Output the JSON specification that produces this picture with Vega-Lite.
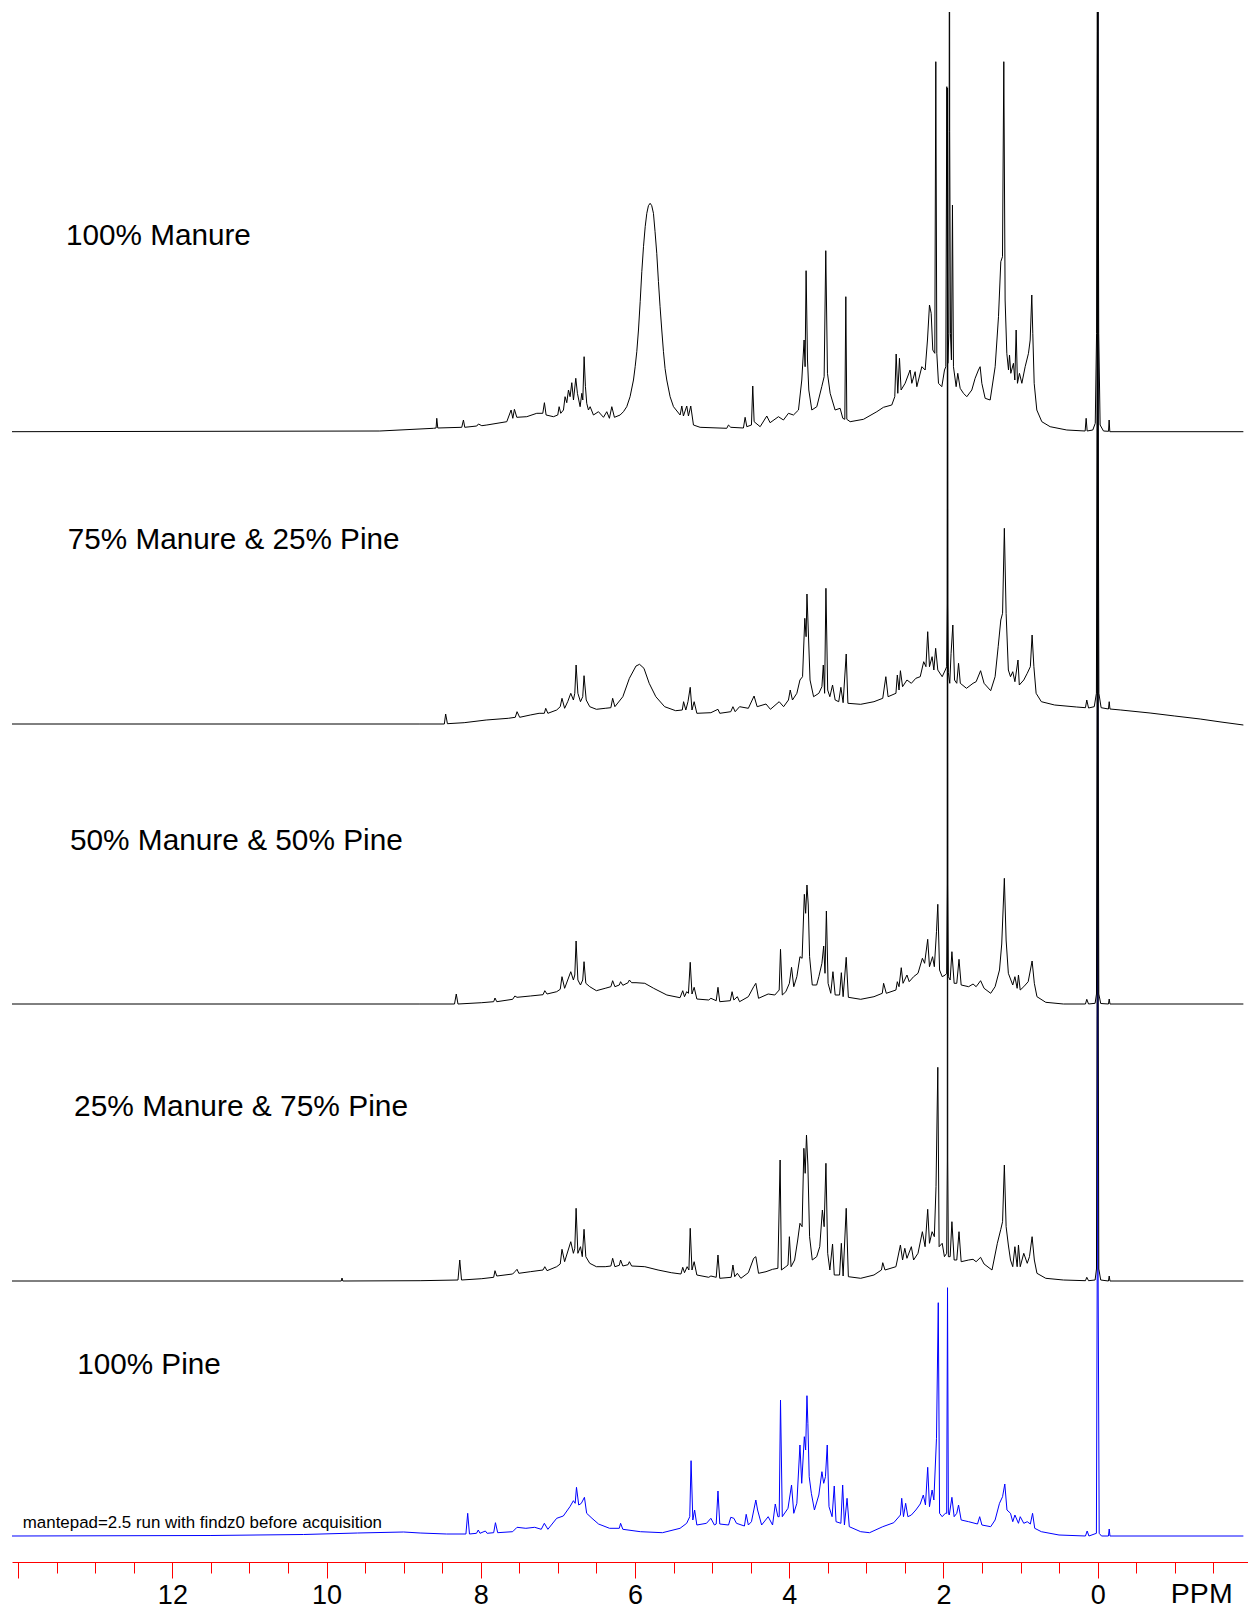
{
  "$schema": "https://vega.github.io/schema/vega-lite/v6.json",
  "autosize": "none",
  "width": 1236,
  "height": 1550,
  "padding": {"left": 12, "top": 12, "right": 0, "bottom": 50},
  "background": "white",
  "config": {"view": {"stroke": null}, "font": "Liberation Sans"},
  "datasets": {
    "manure100": [
      {"ppm": 14.08, "intensity": 0}, {"ppm": 9.31, "intensity": 0.7}, {"ppm": 8.614, "intensity": 3.4}, {"ppm": 8.58, "intensity": 3.7}, {"ppm": 8.571, "intensity": 13.4}, {"ppm": 8.558, "intensity": 3.7},
      {"ppm": 8.247, "intensity": 4.4}, {"ppm": 8.225, "intensity": 11.7}, {"ppm": 8.208, "intensity": 4.4}, {"ppm": 8.052, "intensity": 5.7}, {"ppm": 8.031, "intensity": 7.7}, {"ppm": 7.987, "intensity": 6},
      {"ppm": 7.922, "intensity": 6.7}, {"ppm": 7.663, "intensity": 10}, {"ppm": 7.607, "intensity": 21.7}, {"ppm": 7.585, "intensity": 13.4}, {"ppm": 7.564, "intensity": 22.4}, {"ppm": 7.533, "intensity": 14.4},
      {"ppm": 7.404, "intensity": 15}, {"ppm": 7.274, "intensity": 18.4}, {"ppm": 7.196, "intensity": 18.4}, {"ppm": 7.175, "intensity": 29}, {"ppm": 7.153, "intensity": 16.7}, {"ppm": 7.058, "intensity": 15},
      {"ppm": 7.002, "intensity": 16.7}, {"ppm": 6.984, "intensity": 25}, {"ppm": 6.963, "intensity": 18.4}, {"ppm": 6.928, "intensity": 21.7}, {"ppm": 6.907, "intensity": 35}, {"ppm": 6.885, "intensity": 29},
      {"ppm": 6.863, "intensity": 41.7}, {"ppm": 6.842, "intensity": 35}, {"ppm": 6.82, "intensity": 49}, {"ppm": 6.798, "intensity": 31.7}, {"ppm": 6.768, "intensity": 53.4}, {"ppm": 6.747, "intensity": 38.4},
      {"ppm": 6.712, "intensity": 25}, {"ppm": 6.69, "intensity": 38.4}, {"ppm": 6.677, "intensity": 31.7}, {"ppm": 6.66, "intensity": 75}, {"ppm": 6.643, "intensity": 45}, {"ppm": 6.626, "intensity": 28.4},
      {"ppm": 6.604, "intensity": 21.7}, {"ppm": 6.582, "intensity": 25}, {"ppm": 6.539, "intensity": 16.7}, {"ppm": 6.474, "intensity": 20}, {"ppm": 6.409, "intensity": 14.4}, {"ppm": 6.366, "intensity": 20},
      {"ppm": 6.332, "intensity": 13.4}, {"ppm": 6.301, "intensity": 25}, {"ppm": 6.267, "intensity": 14.4}, {"ppm": 6.193, "intensity": 16.7}, {"ppm": 6.15, "intensity": 20}, {"ppm": 6.107, "intensity": 25},
      {"ppm": 6.064, "intensity": 35}, {"ppm": 6.02, "intensity": 51.7}, {"ppm": 5.998, "intensity": 65}, {"ppm": 5.977, "intensity": 80}, {"ppm": 5.955, "intensity": 101.7}, {"ppm": 5.933, "intensity": 130},
      {"ppm": 5.912, "intensity": 160}, {"ppm": 5.89, "intensity": 185}, {"ppm": 5.868, "intensity": 205}, {"ppm": 5.847, "intensity": 218.4}, {"ppm": 5.826, "intensity": 226}, {"ppm": 5.804, "intensity": 228.4},
      {"ppm": 5.783, "intensity": 226}, {"ppm": 5.761, "intensity": 218.4}, {"ppm": 5.74, "intensity": 200}, {"ppm": 5.718, "intensity": 178.4}, {"ppm": 5.696, "intensity": 150}, {"ppm": 5.675, "intensity": 125},
      {"ppm": 5.653, "intensity": 101.7}, {"ppm": 5.631, "intensity": 80}, {"ppm": 5.61, "intensity": 63}, {"ppm": 5.588, "intensity": 51.7}, {"ppm": 5.545, "intensity": 35}, {"ppm": 5.501, "intensity": 25},
      {"ppm": 5.415, "intensity": 16.7}, {"ppm": 5.393, "intensity": 25.7}, {"ppm": 5.372, "intensity": 15.7}, {"ppm": 5.329, "intensity": 25.7}, {"ppm": 5.307, "intensity": 15.7}, {"ppm": 5.277, "intensity": 25.7},
      {"ppm": 5.242, "intensity": 6.7}, {"ppm": 5.156, "intensity": 4.4}, {"ppm": 4.81, "intensity": 3.4}, {"ppm": 4.788, "intensity": 6.7}, {"ppm": 4.758, "intensity": 4.4}, {"ppm": 4.594, "intensity": 3.7},
      {"ppm": 4.572, "intensity": 14.4}, {"ppm": 4.55, "intensity": 5}, {"ppm": 4.49, "intensity": 6.7}, {"ppm": 4.473, "intensity": 45.7}, {"ppm": 4.455, "intensity": 10}, {"ppm": 4.377, "intensity": 5},
      {"ppm": 4.291, "intensity": 15.7}, {"ppm": 4.248, "intensity": 9}, {"ppm": 4.14, "intensity": 15}, {"ppm": 4.075, "intensity": 11.7}, {"ppm": 4.01, "intensity": 18.4}, {"ppm": 3.945, "intensity": 16.7},
      {"ppm": 3.88, "intensity": 21.7}, {"ppm": 3.837, "intensity": 51.7}, {"ppm": 3.807, "intensity": 91.7}, {"ppm": 3.794, "intensity": 65}, {"ppm": 3.781, "intensity": 161}, {"ppm": 3.763, "intensity": 71.7},
      {"ppm": 3.746, "intensity": 41.7}, {"ppm": 3.707, "intensity": 21.7}, {"ppm": 3.642, "intensity": 25}, {"ppm": 3.578, "intensity": 45}, {"ppm": 3.547, "intensity": 55}, {"ppm": 3.526, "intensity": 181},
      {"ppm": 3.504, "intensity": 58.4}, {"ppm": 3.469, "intensity": 38.4}, {"ppm": 3.405, "intensity": 21.7}, {"ppm": 3.34, "intensity": 23.4}, {"ppm": 3.305, "intensity": 13.4}, {"ppm": 3.279, "intensity": 12.4},
      {"ppm": 3.266, "intensity": 135}, {"ppm": 3.253, "intensity": 12.4}, {"ppm": 3.21, "intensity": 10}, {"ppm": 3.037, "intensity": 12.4}, {"ppm": 2.864, "intensity": 20}, {"ppm": 2.778, "intensity": 24.4},
      {"ppm": 2.67, "intensity": 26.7}, {"ppm": 2.631, "intensity": 35}, {"ppm": 2.613, "intensity": 77.7}, {"ppm": 2.592, "intensity": 38.4}, {"ppm": 2.57, "intensity": 73.4}, {"ppm": 2.549, "intensity": 41.7},
      {"ppm": 2.497, "intensity": 48.4}, {"ppm": 2.432, "intensity": 61.7}, {"ppm": 2.41, "intensity": 48.4}, {"ppm": 2.367, "intensity": 60}, {"ppm": 2.345, "intensity": 45}, {"ppm": 2.28, "intensity": 65},
      {"ppm": 2.237, "intensity": 61.7}, {"ppm": 2.207, "intensity": 91.7}, {"ppm": 2.181, "intensity": 126.7}, {"ppm": 2.159, "intensity": 118.4}, {"ppm": 2.138, "intensity": 81.7}, {"ppm": 2.112, "intensity": 78.4},
      {"ppm": 2.099, "intensity": 370}, {"ppm": 2.086, "intensity": 78.4}, {"ppm": 2.064, "intensity": 48.4}, {"ppm": 2.021, "intensity": 45}, {"ppm": 1.986, "intensity": 61.7}, {"ppm": 1.969, "intensity": 65},
      {"ppm": 1.956, "intensity": 345}, {"ppm": 1.943, "intensity": 68.4}, {"ppm": 1.93, "intensity": 98}, {"ppm": 1.925, "intensity": 300}, {"ppm": 1.922, "intensity": 1000}, {"ppm": 1.919, "intensity": 300},
      {"ppm": 1.909, "intensity": 98}, {"ppm": 1.896, "intensity": 71.7}, {"ppm": 1.883, "intensity": 226.7}, {"ppm": 1.87, "intensity": 65}, {"ppm": 1.835, "intensity": 45}, {"ppm": 1.814, "intensity": 58.4},
      {"ppm": 1.783, "intensity": 43.4}, {"ppm": 1.74, "intensity": 38.4}, {"ppm": 1.697, "intensity": 35}, {"ppm": 1.632, "intensity": 41.7}, {"ppm": 1.589, "intensity": 53.4}, {"ppm": 1.546, "intensity": 61.7},
      {"ppm": 1.524, "intensity": 65}, {"ppm": 1.502, "intensity": 48.4}, {"ppm": 1.459, "intensity": 33.4}, {"ppm": 1.394, "intensity": 31.7}, {"ppm": 1.329, "intensity": 65}, {"ppm": 1.286, "intensity": 115},
      {"ppm": 1.256, "intensity": 170}, {"ppm": 1.234, "intensity": 175}, {"ppm": 1.217, "intensity": 370}, {"ppm": 1.2, "intensity": 131.7}, {"ppm": 1.178, "intensity": 78.4}, {"ppm": 1.156, "intensity": 61.7},
      {"ppm": 1.143, "intensity": 76.7}, {"ppm": 1.126, "intensity": 58.4}, {"ppm": 1.092, "intensity": 68.4}, {"ppm": 1.074, "intensity": 51.7}, {"ppm": 1.057, "intensity": 101.7}, {"ppm": 1.04, "intensity": 48.4},
      {"ppm": 1.014, "intensity": 58.4}, {"ppm": 0.983, "intensity": 48.4}, {"ppm": 0.94, "intensity": 65}, {"ppm": 0.897, "intensity": 78.4}, {"ppm": 0.875, "intensity": 91.7}, {"ppm": 0.854, "intensity": 136.7},
      {"ppm": 0.841, "intensity": 98}, {"ppm": 0.823, "intensity": 48.4}, {"ppm": 0.789, "intensity": 21.7}, {"ppm": 0.724, "intensity": 10}, {"ppm": 0.616, "intensity": 5}, {"ppm": 0.4, "intensity": 1.7},
      {"ppm": 0.162, "intensity": 0.7}, {"ppm": 0.149, "intensity": 13.4}, {"ppm": 0.136, "intensity": 0.7}, {"ppm": 0.063, "intensity": 1.7}, {"ppm": 0.031, "intensity": 8.4}, {"ppm": 0.014, "intensity": 98},
      {"ppm": 0.004, "intensity": 400}, {"ppm": 0, "intensity": 2000}, {"ppm": -0.004, "intensity": 400}, {"ppm": -0.014, "intensity": 98}, {"ppm": -0.032, "intensity": 6.7}, {"ppm": -0.076, "intensity": 0.7},
      {"ppm": -0.141, "intensity": 0.4}, {"ppm": -0.149, "intensity": 11.7}, {"ppm": -0.158, "intensity": 0}, {"ppm": -1.89, "intensity": 0}
    ],
    "manure75pine25": [
      {"ppm": 14.08, "intensity": 0}, {"ppm": 8.8, "intensity": 0}, {"ppm": 8.473, "intensity": 0}, {"ppm": 8.456, "intensity": 10}, {"ppm": 8.433, "intensity": 0.3}, {"ppm": 8.216, "intensity": 1.3},
      {"ppm": 7.93, "intensity": 4}, {"ppm": 7.644, "intensity": 5.7}, {"ppm": 7.553, "intensity": 6.7}, {"ppm": 7.53, "intensity": 12.3}, {"ppm": 7.496, "intensity": 6.7}, {"ppm": 7.358, "intensity": 9},
      {"ppm": 7.244, "intensity": 10.7}, {"ppm": 7.176, "intensity": 10.7}, {"ppm": 7.158, "intensity": 15.7}, {"ppm": 7.13, "intensity": 10.7}, {"ppm": 7.016, "intensity": 14}, {"ppm": 6.97, "intensity": 17.3},
      {"ppm": 6.947, "intensity": 25.7}, {"ppm": 6.913, "intensity": 15.7}, {"ppm": 6.873, "intensity": 22.3}, {"ppm": 6.833, "intensity": 30.7}, {"ppm": 6.799, "intensity": 24}, {"ppm": 6.781, "intensity": 30.7},
      {"ppm": 6.764, "intensity": 59}, {"ppm": 6.741, "intensity": 30.7}, {"ppm": 6.707, "intensity": 22.3}, {"ppm": 6.678, "intensity": 27.3}, {"ppm": 6.661, "intensity": 48.3}, {"ppm": 6.633, "intensity": 24},
      {"ppm": 6.587, "intensity": 17.3}, {"ppm": 6.501, "intensity": 14.7}, {"ppm": 6.387, "intensity": 15.7}, {"ppm": 6.313, "intensity": 16.3}, {"ppm": 6.29, "intensity": 25.7}, {"ppm": 6.261, "intensity": 17.3},
      {"ppm": 6.158, "intensity": 27.3}, {"ppm": 6.073, "intensity": 45.7}, {"ppm": 5.987, "intensity": 58}, {"ppm": 5.941, "intensity": 59.7}, {"ppm": 5.884, "intensity": 55.7}, {"ppm": 5.816, "intensity": 40.7},
      {"ppm": 5.73, "intensity": 27.3}, {"ppm": 5.616, "intensity": 17.3}, {"ppm": 5.473, "intensity": 13.3}, {"ppm": 5.387, "intensity": 14}, {"ppm": 5.37, "intensity": 22.3}, {"ppm": 5.341, "intensity": 14},
      {"ppm": 5.313, "intensity": 22.3}, {"ppm": 5.284, "intensity": 36.7}, {"ppm": 5.261, "intensity": 14}, {"ppm": 5.233, "intensity": 22.3}, {"ppm": 5.198, "intensity": 10.7}, {"ppm": 5.016, "intensity": 11.3},
      {"ppm": 4.924, "intensity": 14.7}, {"ppm": 4.901, "intensity": 10.7}, {"ppm": 4.758, "intensity": 12.3}, {"ppm": 4.73, "intensity": 17.3}, {"ppm": 4.701, "intensity": 12.3}, {"ppm": 4.644, "intensity": 17.3},
      {"ppm": 4.53, "intensity": 15.7}, {"ppm": 4.456, "intensity": 28}, {"ppm": 4.416, "intensity": 17.3}, {"ppm": 4.301, "intensity": 20}, {"ppm": 4.244, "intensity": 14.7}, {"ppm": 4.13, "intensity": 22.3},
      {"ppm": 4.073, "intensity": 17.3}, {"ppm": 4.01, "intensity": 24}, {"ppm": 3.987, "intensity": 34}, {"ppm": 3.958, "intensity": 24}, {"ppm": 3.901, "intensity": 30.7}, {"ppm": 3.861, "intensity": 44},
      {"ppm": 3.827, "intensity": 47.3}, {"ppm": 3.798, "intensity": 105.7}, {"ppm": 3.781, "intensity": 87.3}, {"ppm": 3.77, "intensity": 130}, {"ppm": 3.753, "intensity": 94}, {"ppm": 3.73, "intensity": 44},
      {"ppm": 3.684, "intensity": 27.3}, {"ppm": 3.616, "intensity": 30.7}, {"ppm": 3.576, "intensity": 37.3}, {"ppm": 3.558, "intensity": 59}, {"ppm": 3.541, "intensity": 30.7}, {"ppm": 3.524, "intensity": 135.7},
      {"ppm": 3.501, "intensity": 34}, {"ppm": 3.473, "intensity": 27.3}, {"ppm": 3.438, "intensity": 39}, {"ppm": 3.404, "intensity": 24}, {"ppm": 3.358, "intensity": 22.3}, {"ppm": 3.33, "intensity": 36.7},
      {"ppm": 3.301, "intensity": 21.3}, {"ppm": 3.261, "intensity": 70}, {"ppm": 3.239, "intensity": 20.7}, {"ppm": 3.073, "intensity": 19.7}, {"ppm": 2.901, "intensity": 22.3}, {"ppm": 2.787, "intensity": 25.7},
      {"ppm": 2.747, "intensity": 47.3}, {"ppm": 2.718, "intensity": 27.3}, {"ppm": 2.616, "intensity": 30.7}, {"ppm": 2.598, "intensity": 49}, {"ppm": 2.576, "intensity": 34}, {"ppm": 2.558, "intensity": 53.3},
      {"ppm": 2.53, "intensity": 37.3}, {"ppm": 2.473, "intensity": 44}, {"ppm": 2.416, "intensity": 40.7}, {"ppm": 2.358, "intensity": 45.7}, {"ppm": 2.301, "intensity": 47.3}, {"ppm": 2.256, "intensity": 62.3},
      {"ppm": 2.227, "intensity": 57.3}, {"ppm": 2.204, "intensity": 92.3}, {"ppm": 2.181, "intensity": 57.3}, {"ppm": 2.147, "intensity": 67.3}, {"ppm": 2.124, "intensity": 54}, {"ppm": 2.101, "intensity": 75.7},
      {"ppm": 2.073, "intensity": 54}, {"ppm": 2.016, "intensity": 47.3}, {"ppm": 1.976, "intensity": 54}, {"ppm": 1.958, "intensity": 57.3}, {"ppm": 1.95, "intensity": 120}, {"ppm": 1.947, "intensity": 636},
      {"ppm": 1.944, "intensity": 120}, {"ppm": 1.936, "intensity": 51.3}, {"ppm": 1.918, "intensity": 40.7}, {"ppm": 1.901, "intensity": 70.7}, {"ppm": 1.878, "intensity": 99}, {"ppm": 1.856, "intensity": 44},
      {"ppm": 1.827, "intensity": 40.7}, {"ppm": 1.804, "intensity": 60.7}, {"ppm": 1.781, "intensity": 40.7}, {"ppm": 1.701, "intensity": 35.7}, {"ppm": 1.616, "intensity": 40.7}, {"ppm": 1.576, "intensity": 42.3},
      {"ppm": 1.518, "intensity": 53.3}, {"ppm": 1.473, "intensity": 40.7}, {"ppm": 1.387, "intensity": 33.3}, {"ppm": 1.33, "intensity": 47.3}, {"ppm": 1.29, "intensity": 77.3}, {"ppm": 1.256, "intensity": 104},
      {"ppm": 1.233, "intensity": 110.7}, {"ppm": 1.21, "intensity": 195.7}, {"ppm": 1.187, "intensity": 110.7}, {"ppm": 1.158, "intensity": 54}, {"ppm": 1.13, "intensity": 47.3}, {"ppm": 1.101, "intensity": 52.3},
      {"ppm": 1.073, "intensity": 42.3}, {"ppm": 1.033, "intensity": 64}, {"ppm": 1.016, "intensity": 39}, {"ppm": 0.958, "intensity": 44}, {"ppm": 0.913, "intensity": 50.7}, {"ppm": 0.873, "intensity": 57.3},
      {"ppm": 0.85, "intensity": 89}, {"ppm": 0.827, "intensity": 57.3}, {"ppm": 0.798, "intensity": 30.7}, {"ppm": 0.73, "intensity": 22.3}, {"ppm": 0.558, "intensity": 19}, {"ppm": 0.273, "intensity": 17},
      {"ppm": 0.158, "intensity": 16.3}, {"ppm": 0.141, "intensity": 24}, {"ppm": 0.118, "intensity": 16}, {"ppm": 0.044, "intensity": 17.3}, {"ppm": 0.016, "intensity": 30.7}, {"ppm": 0.004, "intensity": 400},
      {"ppm": 0, "intensity": 2000}, {"ppm": -0.004, "intensity": 400}, {"ppm": -0.016, "intensity": 30.7}, {"ppm": -0.045, "intensity": 16.3}, {"ppm": -0.14, "intensity": 15}, {"ppm": -0.15, "intensity": 22.3},
      {"ppm": -0.16, "intensity": 15}, {"ppm": -0.3, "intensity": 14}, {"ppm": -0.68, "intensity": 11}, {"ppm": -1.0, "intensity": 8}, {"ppm": -1.33, "intensity": 5}, {"ppm": -1.6, "intensity": 2},
      {"ppm": -1.89, "intensity": -1}
    ],
    "manure50pine50": [
      {"ppm": 14.08, "intensity": 0}, {"ppm": 8.8, "intensity": 0}, {"ppm": 8.341, "intensity": 0}, {"ppm": 8.318, "intensity": 10}, {"ppm": 8.296, "intensity": 0}, {"ppm": 7.987, "intensity": 1.3},
      {"ppm": 7.833, "intensity": 2.3}, {"ppm": 7.816, "intensity": 6}, {"ppm": 7.793, "intensity": 2.3}, {"ppm": 7.587, "intensity": 4.7}, {"ppm": 7.558, "intensity": 8}, {"ppm": 7.53, "intensity": 6.7},
      {"ppm": 7.358, "intensity": 8}, {"ppm": 7.193, "intensity": 9.3}, {"ppm": 7.17, "intensity": 13.3}, {"ppm": 7.141, "intensity": 10}, {"ppm": 7.016, "intensity": 12.3}, {"ppm": 6.97, "intensity": 14.7},
      {"ppm": 6.947, "intensity": 27.3}, {"ppm": 6.913, "intensity": 15.7}, {"ppm": 6.833, "intensity": 32.3}, {"ppm": 6.799, "intensity": 24}, {"ppm": 6.781, "intensity": 29}, {"ppm": 6.764, "intensity": 63},
      {"ppm": 6.741, "intensity": 24}, {"ppm": 6.707, "intensity": 19}, {"ppm": 6.678, "intensity": 24}, {"ppm": 6.661, "intensity": 42.3}, {"ppm": 6.638, "intensity": 20.7}, {"ppm": 6.587, "intensity": 17.3},
      {"ppm": 6.501, "intensity": 13.3}, {"ppm": 6.387, "intensity": 15.7}, {"ppm": 6.313, "intensity": 17.3}, {"ppm": 6.29, "intensity": 23.3}, {"ppm": 6.261, "intensity": 17.3}, {"ppm": 6.204, "intensity": 19},
      {"ppm": 6.187, "intensity": 22.3}, {"ppm": 6.158, "intensity": 18.7}, {"ppm": 6.09, "intensity": 21.3}, {"ppm": 6.073, "intensity": 24}, {"ppm": 6.044, "intensity": 21.3}, {"ppm": 5.987, "intensity": 21.3},
      {"ppm": 5.873, "intensity": 20.7}, {"ppm": 5.758, "intensity": 15.7}, {"ppm": 5.587, "intensity": 9}, {"ppm": 5.416, "intensity": 6.3}, {"ppm": 5.381, "intensity": 13.3}, {"ppm": 5.358, "intensity": 7.3},
      {"ppm": 5.33, "intensity": 12.3}, {"ppm": 5.307, "intensity": 10.7}, {"ppm": 5.284, "intensity": 41.7}, {"ppm": 5.261, "intensity": 10}, {"ppm": 5.233, "intensity": 16.7}, {"ppm": 5.198, "intensity": 5},
      {"ppm": 5.044, "intensity": 4}, {"ppm": 5.016, "intensity": 5.7}, {"ppm": 4.947, "intensity": 3.3}, {"ppm": 4.924, "intensity": 16.7}, {"ppm": 4.901, "intensity": 2.3}, {"ppm": 4.764, "intensity": 3.3},
      {"ppm": 4.741, "intensity": 12.3}, {"ppm": 4.718, "intensity": 4}, {"ppm": 4.673, "intensity": 7.3}, {"ppm": 4.644, "intensity": 2.3}, {"ppm": 4.53, "intensity": 7.3}, {"ppm": 4.461, "intensity": 17.3},
      {"ppm": 4.433, "intensity": 20.7}, {"ppm": 4.398, "intensity": 5.7}, {"ppm": 4.273, "intensity": 10}, {"ppm": 4.187, "intensity": 9}, {"ppm": 4.13, "intensity": 14}, {"ppm": 4.113, "intensity": 54.7},
      {"ppm": 4.09, "intensity": 9}, {"ppm": 4.044, "intensity": 12.3}, {"ppm": 3.998, "intensity": 20.7}, {"ppm": 3.97, "intensity": 36.7}, {"ppm": 3.941, "intensity": 17.3}, {"ppm": 3.901, "intensity": 27.3},
      {"ppm": 3.861, "intensity": 47.3}, {"ppm": 3.833, "intensity": 45.7}, {"ppm": 3.804, "intensity": 109.7}, {"ppm": 3.787, "intensity": 90.7}, {"ppm": 3.77, "intensity": 119}, {"ppm": 3.753, "intensity": 99},
      {"ppm": 3.736, "intensity": 47.3}, {"ppm": 3.701, "intensity": 19}, {"ppm": 3.644, "intensity": 19}, {"ppm": 3.616, "intensity": 27.3}, {"ppm": 3.576, "intensity": 40.7}, {"ppm": 3.553, "intensity": 58},
      {"ppm": 3.536, "intensity": 30.7}, {"ppm": 3.518, "intensity": 93}, {"ppm": 3.496, "intensity": 20.7}, {"ppm": 3.461, "intensity": 10.7}, {"ppm": 3.433, "intensity": 32.3}, {"ppm": 3.404, "intensity": 9},
      {"ppm": 3.347, "intensity": 9}, {"ppm": 3.324, "intensity": 31.3}, {"ppm": 3.301, "intensity": 7.3}, {"ppm": 3.261, "intensity": 46.7}, {"ppm": 3.233, "intensity": 6.7}, {"ppm": 3.073, "intensity": 4.7},
      {"ppm": 2.901, "intensity": 7.3}, {"ppm": 2.793, "intensity": 10.7}, {"ppm": 2.776, "intensity": 20.7}, {"ppm": 2.741, "intensity": 10.7}, {"ppm": 2.616, "intensity": 14}, {"ppm": 2.598, "intensity": 22.3},
      {"ppm": 2.576, "intensity": 17.3}, {"ppm": 2.547, "intensity": 36.3}, {"ppm": 2.524, "intensity": 20.7}, {"ppm": 2.473, "intensity": 29}, {"ppm": 2.444, "intensity": 22.3}, {"ppm": 2.387, "intensity": 27.3},
      {"ppm": 2.33, "intensity": 30.7}, {"ppm": 2.273, "intensity": 45.7}, {"ppm": 2.244, "intensity": 40.7}, {"ppm": 2.204, "intensity": 64.7}, {"ppm": 2.181, "intensity": 37.3}, {"ppm": 2.141, "intensity": 47.3},
      {"ppm": 2.118, "intensity": 37.3}, {"ppm": 2.09, "intensity": 72.3}, {"ppm": 2.073, "intensity": 99.7}, {"ppm": 2.05, "intensity": 34}, {"ppm": 2.016, "intensity": 27.3}, {"ppm": 1.976, "intensity": 29},
      {"ppm": 1.958, "intensity": 30.7}, {"ppm": 1.95, "intensity": 120}, {"ppm": 1.947, "intensity": 916}, {"ppm": 1.944, "intensity": 120}, {"ppm": 1.936, "intensity": 27.3}, {"ppm": 1.913, "intensity": 24},
      {"ppm": 1.89, "intensity": 52.3}, {"ppm": 1.861, "intensity": 20.7}, {"ppm": 1.827, "intensity": 20.7}, {"ppm": 1.798, "intensity": 44.7}, {"ppm": 1.77, "intensity": 19}, {"ppm": 1.673, "intensity": 17.3},
      {"ppm": 1.616, "intensity": 20}, {"ppm": 1.576, "intensity": 17.3}, {"ppm": 1.518, "intensity": 23.3}, {"ppm": 1.473, "intensity": 15.7}, {"ppm": 1.387, "intensity": 10.7}, {"ppm": 1.33, "intensity": 17.3},
      {"ppm": 1.273, "intensity": 34}, {"ppm": 1.244, "intensity": 60}, {"ppm": 1.21, "intensity": 125.7}, {"ppm": 1.187, "intensity": 64}, {"ppm": 1.158, "intensity": 30.7}, {"ppm": 1.101, "intensity": 19},
      {"ppm": 1.073, "intensity": 27.3}, {"ppm": 1.044, "intensity": 15.7}, {"ppm": 1.027, "intensity": 29}, {"ppm": 1.004, "intensity": 14}, {"ppm": 0.958, "intensity": 17.3}, {"ppm": 0.901, "intensity": 22.3},
      {"ppm": 0.85, "intensity": 43}, {"ppm": 0.821, "intensity": 20.7}, {"ppm": 0.787, "intensity": 7.3}, {"ppm": 0.673, "intensity": 1.7}, {"ppm": 0.444, "intensity": 0}, {"ppm": 0.158, "intensity": 0},
      {"ppm": 0.141, "intensity": 4.7}, {"ppm": 0.118, "intensity": 0}, {"ppm": 0.033, "intensity": 0.7}, {"ppm": 0.015, "intensity": 10}, {"ppm": 0.004, "intensity": 400}, {"ppm": 0, "intensity": 2000},
      {"ppm": -0.004, "intensity": 400}, {"ppm": -0.015, "intensity": 10}, {"ppm": -0.04, "intensity": 0.5}, {"ppm": -0.14, "intensity": 0}, {"ppm": -0.15, "intensity": 5}, {"ppm": -0.16, "intensity": 0},
      {"ppm": -1.89, "intensity": 0}
    ],
    "manure25pine75": [
      {"ppm": 14.08, "intensity": 0}, {"ppm": 9.81, "intensity": 0}, {"ppm": 9.8, "intensity": 3}, {"ppm": 9.79, "intensity": 0}, {"ppm": 8.787, "intensity": 0.3}, {"ppm": 8.296, "intensity": 1},
      {"ppm": 8.273, "intensity": 21}, {"ppm": 8.25, "intensity": 1}, {"ppm": 7.987, "intensity": 2.3}, {"ppm": 7.833, "intensity": 3.7}, {"ppm": 7.816, "intensity": 10.3}, {"ppm": 7.793, "intensity": 5},
      {"ppm": 7.587, "intensity": 7}, {"ppm": 7.558, "intensity": 9.3}, {"ppm": 7.53, "intensity": 11.7}, {"ppm": 7.507, "intensity": 7.7}, {"ppm": 7.358, "intensity": 9.3}, {"ppm": 7.193, "intensity": 11},
      {"ppm": 7.17, "intensity": 14.3}, {"ppm": 7.141, "intensity": 10.3}, {"ppm": 7.016, "intensity": 14.3}, {"ppm": 6.97, "intensity": 17}, {"ppm": 6.947, "intensity": 31.7}, {"ppm": 6.913, "intensity": 19.3},
      {"ppm": 6.833, "intensity": 39.3}, {"ppm": 6.799, "intensity": 27.7}, {"ppm": 6.781, "intensity": 32.7}, {"ppm": 6.764, "intensity": 72.7}, {"ppm": 6.741, "intensity": 27.7}, {"ppm": 6.707, "intensity": 34.3},
      {"ppm": 6.684, "intensity": 24.3}, {"ppm": 6.661, "intensity": 51.7}, {"ppm": 6.638, "intensity": 24.3}, {"ppm": 6.587, "intensity": 17.7}, {"ppm": 6.501, "intensity": 14.3}, {"ppm": 6.387, "intensity": 14.3},
      {"ppm": 6.313, "intensity": 15}, {"ppm": 6.29, "intensity": 22.7}, {"ppm": 6.261, "intensity": 14.3}, {"ppm": 6.204, "intensity": 15.7}, {"ppm": 6.187, "intensity": 21}, {"ppm": 6.158, "intensity": 15},
      {"ppm": 6.09, "intensity": 16.3}, {"ppm": 6.073, "intensity": 19.3}, {"ppm": 6.044, "intensity": 15}, {"ppm": 5.873, "intensity": 14.3}, {"ppm": 5.701, "intensity": 11}, {"ppm": 5.53, "intensity": 8.3},
      {"ppm": 5.404, "intensity": 7}, {"ppm": 5.381, "intensity": 13.7}, {"ppm": 5.358, "intensity": 8.3}, {"ppm": 5.324, "intensity": 14.3}, {"ppm": 5.301, "intensity": 11}, {"ppm": 5.284, "intensity": 52.7},
      {"ppm": 5.261, "intensity": 11}, {"ppm": 5.233, "intensity": 19.3}, {"ppm": 5.198, "intensity": 6}, {"ppm": 5.044, "intensity": 3.7}, {"ppm": 5.016, "intensity": 5}, {"ppm": 4.947, "intensity": 3.7},
      {"ppm": 4.924, "intensity": 26}, {"ppm": 4.901, "intensity": 2.7}, {"ppm": 4.753, "intensity": 3.7}, {"ppm": 4.73, "intensity": 16}, {"ppm": 4.707, "intensity": 4.3}, {"ppm": 4.673, "intensity": 7.7},
      {"ppm": 4.627, "intensity": 2.7}, {"ppm": 4.53, "intensity": 8.3}, {"ppm": 4.461, "intensity": 22.7}, {"ppm": 4.433, "intensity": 24.3}, {"ppm": 4.398, "intensity": 7.7}, {"ppm": 4.301, "intensity": 9.3},
      {"ppm": 4.216, "intensity": 11.7}, {"ppm": 4.147, "intensity": 12.7}, {"ppm": 4.118, "intensity": 121}, {"ppm": 4.101, "intensity": 11}, {"ppm": 4.044, "intensity": 14.3}, {"ppm": 4.016, "intensity": 16},
      {"ppm": 3.998, "intensity": 44.3}, {"ppm": 3.976, "intensity": 14.3}, {"ppm": 3.93, "intensity": 21}, {"ppm": 3.89, "intensity": 41}, {"ppm": 3.861, "intensity": 57.7}, {"ppm": 3.833, "intensity": 54.3},
      {"ppm": 3.81, "intensity": 132.7}, {"ppm": 3.793, "intensity": 107.7}, {"ppm": 3.776, "intensity": 146}, {"ppm": 3.758, "intensity": 116}, {"ppm": 3.736, "intensity": 44.3}, {"ppm": 3.701, "intensity": 21},
      {"ppm": 3.644, "intensity": 24.3}, {"ppm": 3.604, "intensity": 34.3}, {"ppm": 3.57, "intensity": 71}, {"ppm": 3.547, "intensity": 54.3}, {"ppm": 3.524, "intensity": 117.7}, {"ppm": 3.501, "intensity": 27.7},
      {"ppm": 3.473, "intensity": 11}, {"ppm": 3.438, "intensity": 37}, {"ppm": 3.416, "intensity": 6}, {"ppm": 3.347, "intensity": 6}, {"ppm": 3.324, "intensity": 37.7}, {"ppm": 3.301, "intensity": 5},
      {"ppm": 3.261, "intensity": 72.7}, {"ppm": 3.233, "intensity": 4.3}, {"ppm": 3.073, "intensity": 2.7}, {"ppm": 2.901, "intensity": 6}, {"ppm": 2.804, "intensity": 11}, {"ppm": 2.787, "intensity": 18.3},
      {"ppm": 2.758, "intensity": 11}, {"ppm": 2.616, "intensity": 14.3}, {"ppm": 2.558, "intensity": 36}, {"ppm": 2.53, "intensity": 21}, {"ppm": 2.501, "intensity": 32.7}, {"ppm": 2.473, "intensity": 22.7},
      {"ppm": 2.416, "intensity": 34.3}, {"ppm": 2.387, "intensity": 21}, {"ppm": 2.33, "intensity": 27.7}, {"ppm": 2.273, "intensity": 49.3}, {"ppm": 2.238, "intensity": 34.3}, {"ppm": 2.204, "intensity": 71.7},
      {"ppm": 2.181, "intensity": 37.7}, {"ppm": 2.147, "intensity": 49.3}, {"ppm": 2.118, "intensity": 44.3}, {"ppm": 2.096, "intensity": 94.3}, {"ppm": 2.073, "intensity": 213.7}, {"ppm": 2.056, "intensity": 34.3},
      {"ppm": 2.016, "intensity": 37.7}, {"ppm": 1.987, "intensity": 24.3}, {"ppm": 1.958, "intensity": 27.7}, {"ppm": 1.95, "intensity": 120}, {"ppm": 1.947, "intensity": 1193}, {"ppm": 1.944, "intensity": 120},
      {"ppm": 1.936, "intensity": 24.3}, {"ppm": 1.913, "intensity": 24.3}, {"ppm": 1.89, "intensity": 59.3}, {"ppm": 1.861, "intensity": 21}, {"ppm": 1.827, "intensity": 21}, {"ppm": 1.798, "intensity": 49.3},
      {"ppm": 1.77, "intensity": 19.3}, {"ppm": 1.673, "intensity": 21}, {"ppm": 1.616, "intensity": 21.7}, {"ppm": 1.576, "intensity": 19.3}, {"ppm": 1.518, "intensity": 23.7}, {"ppm": 1.473, "intensity": 17},
      {"ppm": 1.37, "intensity": 11}, {"ppm": 1.301, "intensity": 37.7}, {"ppm": 1.256, "intensity": 51.7}, {"ppm": 1.233, "intensity": 59.3}, {"ppm": 1.21, "intensity": 116}, {"ppm": 1.187, "intensity": 54.3},
      {"ppm": 1.158, "intensity": 36}, {"ppm": 1.13, "intensity": 21}, {"ppm": 1.101, "intensity": 14.3}, {"ppm": 1.073, "intensity": 34.3}, {"ppm": 1.044, "intensity": 14.3}, {"ppm": 1.027, "intensity": 36},
      {"ppm": 1.004, "intensity": 14.3}, {"ppm": 0.958, "intensity": 27.7}, {"ppm": 0.913, "intensity": 17.7}, {"ppm": 0.884, "intensity": 24.3}, {"ppm": 0.85, "intensity": 44.3}, {"ppm": 0.821, "intensity": 21},
      {"ppm": 0.787, "intensity": 7.7}, {"ppm": 0.673, "intensity": 2.7}, {"ppm": 0.444, "intensity": 1}, {"ppm": 0.158, "intensity": 0.3}, {"ppm": 0.141, "intensity": 3.7}, {"ppm": 0.118, "intensity": 0.3},
      {"ppm": 0.033, "intensity": 1}, {"ppm": 0.015, "intensity": 12}, {"ppm": 0.004, "intensity": 400}, {"ppm": 0, "intensity": 2000}, {"ppm": -0.004, "intensity": 400}, {"ppm": -0.015, "intensity": 12},
      {"ppm": -0.04, "intensity": 1}, {"ppm": -0.14, "intensity": 0}, {"ppm": -0.15, "intensity": 5}, {"ppm": -0.16, "intensity": 0}, {"ppm": -1.89, "intensity": 0}
    ],
    "pine100": [
      {"ppm": 14.08, "intensity": 0}, {"ppm": 11.5, "intensity": 0.5}, {"ppm": 10.3, "intensity": 1.5}, {"ppm": 9.6, "intensity": 3}, {"ppm": 9.0, "intensity": 4}, {"ppm": 8.787, "intensity": 3},
      {"ppm": 8.444, "intensity": 2}, {"ppm": 8.193, "intensity": 2}, {"ppm": 8.17, "intensity": 22.7}, {"ppm": 8.147, "intensity": 2}, {"ppm": 8.056, "intensity": 2.7}, {"ppm": 8.033, "intensity": 6},
      {"ppm": 8.01, "intensity": 2.7}, {"ppm": 7.941, "intensity": 5}, {"ppm": 7.918, "intensity": 2.7}, {"ppm": 7.833, "intensity": 3.3}, {"ppm": 7.81, "intensity": 13.3}, {"ppm": 7.781, "intensity": 3.3},
      {"ppm": 7.587, "intensity": 4.3}, {"ppm": 7.53, "intensity": 8.7}, {"ppm": 7.416, "intensity": 7.7}, {"ppm": 7.301, "intensity": 8.7}, {"ppm": 7.216, "intensity": 6.7}, {"ppm": 7.176, "intensity": 12.7},
      {"ppm": 7.13, "intensity": 6.7}, {"ppm": 7.016, "intensity": 17.7}, {"ppm": 6.93, "intensity": 20}, {"ppm": 6.844, "intensity": 29.3}, {"ppm": 6.799, "intensity": 35.3}, {"ppm": 6.776, "intensity": 32.7},
      {"ppm": 6.759, "intensity": 48.7}, {"ppm": 6.73, "intensity": 31}, {"ppm": 6.696, "intensity": 32.7}, {"ppm": 6.656, "intensity": 38.7}, {"ppm": 6.627, "intensity": 22.7}, {"ppm": 6.558, "intensity": 17.7},
      {"ppm": 6.473, "intensity": 12}, {"ppm": 6.33, "intensity": 7.7}, {"ppm": 6.204, "intensity": 7.7}, {"ppm": 6.187, "intensity": 12.7}, {"ppm": 6.158, "intensity": 6.7}, {"ppm": 5.93, "intensity": 4.3},
      {"ppm": 5.644, "intensity": 3.3}, {"ppm": 5.416, "intensity": 7.7}, {"ppm": 5.33, "intensity": 12.7}, {"ppm": 5.29, "intensity": 19.3}, {"ppm": 5.273, "intensity": 75.3}, {"ppm": 5.25, "intensity": 16},
      {"ppm": 5.227, "intensity": 26}, {"ppm": 5.198, "intensity": 11}, {"ppm": 5.073, "intensity": 12.7}, {"ppm": 5.016, "intensity": 17.7}, {"ppm": 4.97, "intensity": 11}, {"ppm": 4.947, "intensity": 12},
      {"ppm": 4.924, "intensity": 45}, {"ppm": 4.901, "intensity": 12}, {"ppm": 4.787, "intensity": 11}, {"ppm": 4.758, "intensity": 18.7}, {"ppm": 4.718, "intensity": 17.7}, {"ppm": 4.684, "intensity": 12.7},
      {"ppm": 4.581, "intensity": 10}, {"ppm": 4.558, "intensity": 21.7}, {"ppm": 4.53, "intensity": 11}, {"ppm": 4.49, "intensity": 14.3}, {"ppm": 4.433, "intensity": 36}, {"ppm": 4.41, "intensity": 26},
      {"ppm": 4.358, "intensity": 11}, {"ppm": 4.273, "intensity": 19.3}, {"ppm": 4.216, "intensity": 11}, {"ppm": 4.181, "intensity": 32}, {"ppm": 4.147, "intensity": 19.3}, {"ppm": 4.13, "intensity": 19.3},
      {"ppm": 4.113, "intensity": 136}, {"ppm": 4.09, "intensity": 19.3}, {"ppm": 4.016, "intensity": 27.7}, {"ppm": 3.97, "intensity": 51}, {"ppm": 3.941, "intensity": 22.7}, {"ppm": 3.901, "intensity": 32.7},
      {"ppm": 3.861, "intensity": 91}, {"ppm": 3.838, "intensity": 52.7}, {"ppm": 3.804, "intensity": 99.3}, {"ppm": 3.787, "intensity": 86}, {"ppm": 3.77, "intensity": 140.3}, {"ppm": 3.758, "intensity": 112.7},
      {"ppm": 3.741, "intensity": 59.3}, {"ppm": 3.713, "intensity": 42.7}, {"ppm": 3.673, "intensity": 26}, {"ppm": 3.616, "intensity": 41}, {"ppm": 3.576, "intensity": 64.3}, {"ppm": 3.553, "intensity": 52.7},
      {"ppm": 3.53, "intensity": 59.3}, {"ppm": 3.507, "intensity": 91}, {"ppm": 3.484, "intensity": 29.3}, {"ppm": 3.444, "intensity": 19.3}, {"ppm": 3.416, "intensity": 50}, {"ppm": 3.393, "intensity": 14.3},
      {"ppm": 3.33, "intensity": 12.7}, {"ppm": 3.307, "intensity": 51}, {"ppm": 3.284, "intensity": 11}, {"ppm": 3.25, "intensity": 37.7}, {"ppm": 3.221, "intensity": 9.3}, {"ppm": 3.073, "intensity": 4.3},
      {"ppm": 2.958, "intensity": 3.3}, {"ppm": 2.787, "intensity": 9.3}, {"ppm": 2.644, "intensity": 13.3}, {"ppm": 2.558, "intensity": 21}, {"ppm": 2.541, "intensity": 37.7}, {"ppm": 2.518, "intensity": 19.3},
      {"ppm": 2.49, "intensity": 32.7}, {"ppm": 2.461, "intensity": 19.3}, {"ppm": 2.416, "intensity": 21}, {"ppm": 2.358, "intensity": 26}, {"ppm": 2.301, "intensity": 32}, {"ppm": 2.261, "intensity": 41},
      {"ppm": 2.233, "intensity": 31}, {"ppm": 2.204, "intensity": 68.7}, {"ppm": 2.181, "intensity": 29.3}, {"ppm": 2.147, "intensity": 46}, {"ppm": 2.124, "intensity": 36}, {"ppm": 2.09, "intensity": 97.7},
      {"ppm": 2.067, "intensity": 233.3}, {"ppm": 2.05, "intensity": 22.7}, {"ppm": 2.016, "intensity": 19.3}, {"ppm": 1.976, "intensity": 22.7}, {"ppm": 1.958, "intensity": 22.7}, {"ppm": 1.947, "intensity": 248.3},
      {"ppm": 1.936, "intensity": 22.7}, {"ppm": 1.924, "intensity": 21}, {"ppm": 1.89, "intensity": 38.7}, {"ppm": 1.861, "intensity": 19.3}, {"ppm": 1.827, "intensity": 22.7}, {"ppm": 1.804, "intensity": 31},
      {"ppm": 1.77, "intensity": 16}, {"ppm": 1.673, "intensity": 14.3}, {"ppm": 1.558, "intensity": 12}, {"ppm": 1.53, "intensity": 19.3}, {"ppm": 1.501, "intensity": 11}, {"ppm": 1.387, "intensity": 9.3},
      {"ppm": 1.33, "intensity": 16}, {"ppm": 1.273, "intensity": 32.7}, {"ppm": 1.233, "intensity": 39.3}, {"ppm": 1.204, "intensity": 52}, {"ppm": 1.176, "intensity": 26}, {"ppm": 1.13, "intensity": 22.7},
      {"ppm": 1.101, "intensity": 14.3}, {"ppm": 1.073, "intensity": 21}, {"ppm": 1.027, "intensity": 12.7}, {"ppm": 1.004, "intensity": 19.3}, {"ppm": 0.958, "intensity": 12.7}, {"ppm": 0.913, "intensity": 14.3},
      {"ppm": 0.873, "intensity": 12}, {"ppm": 0.844, "intensity": 22.7}, {"ppm": 0.816, "intensity": 7.7}, {"ppm": 0.73, "intensity": 4.3}, {"ppm": 0.501, "intensity": 1}, {"ppm": 0.158, "intensity": 0},
      {"ppm": 0.136, "intensity": 5}, {"ppm": 0.113, "intensity": 0}, {"ppm": 0.016, "intensity": 2.7}, {"ppm": 0.004, "intensity": 300}, {"ppm": 0, "intensity": 2000}, {"ppm": -0.004, "intensity": 300},
      {"ppm": -0.02, "intensity": 2.7}, {"ppm": -0.05, "intensity": 0}, {"ppm": -0.14, "intensity": 0}, {"ppm": -0.15, "intensity": 7}, {"ppm": -0.16, "intensity": 0}, {"ppm": -1.89, "intensity": 0}
    ]
  },
  "resolve": {"axis": {"x": "independent"}},
  "layer": [
    {
      "data": {"name": "pine100"},
      "mark": {"type": "line", "color": "#0000ff", "strokeWidth": 1, "clip": true, "yOffset": -26},
      "encoding": {
        "x": {
          "field": "ppm",
          "type": "quantitative",
          "scale": {"domain": [-1.95, 14.08], "reverse": true, "nice": false, "zero": false},
          "axis": {
            "orient": "bottom",
            "title": null,
            "grid": false,
            "values": [14, 12, 10, 8, 6, 4, 2, 0],
            "labelExpr": "datum.value > 13 ? '' : datum.label",
            "format": "d",
            "domainColor": "#ff0000",
            "domainWidth": 1,
            "tickColor": "#ff0000",
            "tickWidth": 1,
            "tickSize": 16,
            "labelFont": "Liberation Sans",
            "labelFontSize": 27,
            "labelColor": "#000000",
            "labelBaseline": "alphabetic",
            "labelPadding": 25,
            "labelFlush": false,
            "labelOverlap": false
          }
        },
        "y": {"field": "intensity", "type": "quantitative", "scale": {"domain": [0, 1550], "nice": false, "zero": false}, "axis": null}
      }
    },
    {
      "data": {"name": "manure25pine75"},
      "mark": {"type": "line", "color": "#000000", "strokeWidth": 1, "clip": true, "yOffset": -281},
      "encoding": {
        "x": {"field": "ppm", "type": "quantitative", "axis": null},
        "y": {"field": "intensity", "type": "quantitative", "axis": null}
      }
    },
    {
      "data": {"name": "manure50pine50"},
      "mark": {"type": "line", "color": "#000000", "strokeWidth": 1, "clip": true, "yOffset": -558},
      "encoding": {
        "x": {"field": "ppm", "type": "quantitative", "axis": null},
        "y": {"field": "intensity", "type": "quantitative", "axis": null}
      }
    },
    {
      "data": {"name": "manure75pine25"},
      "mark": {"type": "line", "color": "#000000", "strokeWidth": 1, "clip": true, "yOffset": -838},
      "encoding": {
        "x": {"field": "ppm", "type": "quantitative", "axis": null},
        "y": {"field": "intensity", "type": "quantitative", "axis": null}
      }
    },
    {
      "data": {"name": "manure100"},
      "mark": {"type": "line", "color": "#000000", "strokeWidth": 1, "clip": true, "yOffset": -1130.3},
      "encoding": {
        "x": {"field": "ppm", "type": "quantitative", "axis": null},
        "y": {"field": "intensity", "type": "quantitative", "axis": null}
      }
    },
    {
      "data": {"values": [{"label": "100% Manure"}]},
      "mark": {"type": "text", "align": "left", "baseline": "alphabetic", "fontSize": 29.7, "fill": "#000000", "dy": -1130.3},
      "encoding": {"x": {"datum": 13.38, "type": "quantitative", "axis": null}, "y": {"datum": 186.8, "type": "quantitative", "axis": null}, "text": {"field": "label", "type": "nominal"}}
    },
    {
      "data": {"values": [{"label": "75% Manure & 25% Pine"}]},
      "mark": {"type": "text", "align": "left", "baseline": "alphabetic", "fontSize": 29.7, "fill": "#000000", "dy": -838},
      "encoding": {"x": {"datum": 13.356, "type": "quantitative", "axis": null}, "y": {"datum": 174.8, "type": "quantitative", "axis": null}, "text": {"field": "label", "type": "nominal"}}
    },
    {
      "data": {"values": [{"label": "50% Manure & 50% Pine"}]},
      "mark": {"type": "text", "align": "left", "baseline": "alphabetic", "fontSize": 29.8, "fill": "#000000", "dy": -558},
      "encoding": {"x": {"datum": 13.329, "type": "quantitative", "axis": null}, "y": {"datum": 153.7, "type": "quantitative", "axis": null}, "text": {"field": "label", "type": "nominal"}}
    },
    {
      "data": {"values": [{"label": "25% Manure & 75% Pine"}]},
      "mark": {"type": "text", "align": "left", "baseline": "alphabetic", "fontSize": 29.9, "fill": "#000000", "dy": -281},
      "encoding": {"x": {"datum": 13.275, "type": "quantitative", "axis": null}, "y": {"datum": 165.5, "type": "quantitative", "axis": null}, "text": {"field": "label", "type": "nominal"}}
    },
    {
      "data": {"values": [{"label": "100% Pine"}]},
      "mark": {"type": "text", "align": "left", "baseline": "alphabetic", "fontSize": 29.7, "fill": "#000000", "dy": -26},
      "encoding": {"x": {"datum": 13.235, "type": "quantitative", "axis": null}, "y": {"datum": 162.5, "type": "quantitative", "axis": null}, "text": {"field": "label", "type": "nominal"}}
    },
    {
      "data": {"values": [{"label": "mantepad=2.5 run with findz0 before acquisition"}]},
      "mark": {"type": "text", "align": "left", "baseline": "alphabetic", "fontSize": 16.9, "fill": "#000000", "dy": -26},
      "encoding": {"x": {"datum": 13.94, "type": "quantitative", "axis": null}, "y": {"datum": 7.7, "type": "quantitative", "axis": null}, "text": {"field": "label", "type": "nominal"}}
    },
    {
      "data": {"values": [{"label": "PPM"}]},
      "mark": {"type": "text", "align": "center", "baseline": "alphabetic", "fontSize": 28.5, "fill": "#000000"},
      "encoding": {
        "x": {
          "datum": -1.35,
          "type": "quantitative",
          "axis": {
            "orient": "bottom",
            "title": null,
            "grid": false,
            "values": [13.5, 13, 12.5, 11.5, 11, 10.5, 9.5, 9, 8.5, 7.5, 7, 6.5, 5.5, 5, 4.5, 3.5, 3, 2.5, 1.5, 1, 0.5, -0.5, -1, -1.5],
            "labels": false,
            "domain": false,
            "tickColor": "#ff0000",
            "tickWidth": 1,
            "tickSize": 11
          }
        },
        "y": {"datum": -41, "type": "quantitative", "axis": null},
        "text": {"field": "label", "type": "nominal"}
      }
    }
  ]
}
